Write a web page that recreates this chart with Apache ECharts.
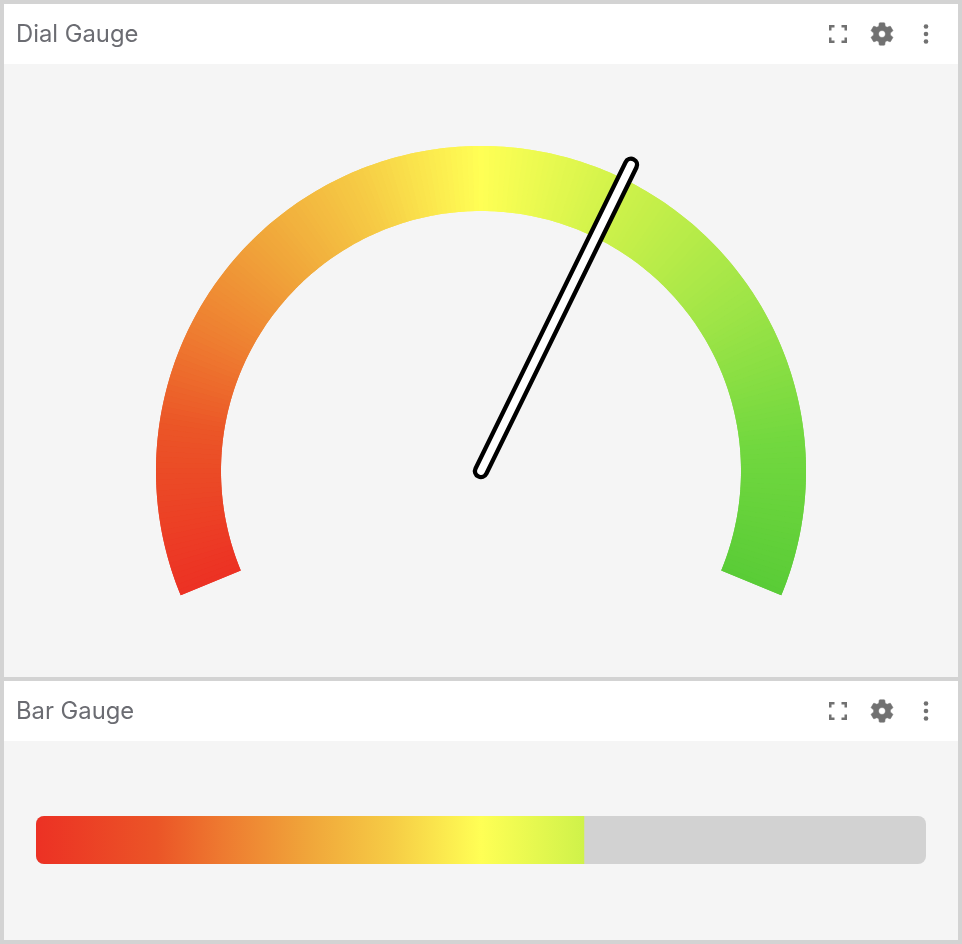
<!DOCTYPE html>
<html><head><meta charset="utf-8">
<style>html,body{margin:0;padding:0;background:#d3d3d3}#c{width:962px;height:944px}</style>
<script src="https://cdn.jsdelivr.net/npm/echarts@6/dist/echarts.min.js"></script>
</head><body><div id="c"></div>
<script>
const panelTitles = ['Dial Gauge', 'Bar Gauge'];
const dialValue = [61.6];
const barValue = [61.6];
const barCategories = ['Bar Gauge'];
const gaugeMin = 0, gaugeMax = 100;
const rampStops = [[0, '#EC3124'], [0.136, '#EB5527'], [0.21, '#EE7A30'], [0.305, '#F0A53A'], [0.4, '#F6CC45'], [0.5, '#FFFF55'], [0.6157, '#CFF24A'], [0.75, '#A0E547'], [0.875, '#72D83F'], [1, '#5ACC37']];

function hex(c){return [1,3,5].map(i=>parseInt(c.slice(i,i+2),16));}
function ramp(t){
  for(let i=1;i<rampStops.length;i++){
    if(t<=rampStops[i][0]){
      const a=rampStops[i-1],b=rampStops[i],k=(t-a[0])/(b[0]-a[0]);
      const A=hex(a[1]),B=hex(b[1]);
      return 'rgb('+A.map((v,j)=>Math.round(v+(B[j]-v)*k)).join(',')+')';
    }
  }
  return rampStops[rampStops.length-1][1];
}
// the dial's sweep gradient, as colour bands for the gauge's axis line
function bands(n,shift){
  const out=[];
  for(let i=1;i<=n;i++){
    const end=Math.min(1,(i+shift)/n);
    out.push([end,ramp((i-0.5)/n)]);
  }
  out[n-1][0]=1;
  return out;
}
const gearPath='M19.14 12.94c.04-.3.06-.61.06-.94 0-.32-.02-.64-.07-.94l2.03-1.58c.18-.14.23-.41.12-.61l-1.92-3.32c-.12-.22-.37-.29-.59-.22l-2.39.96c-.5-.38-1.03-.7-1.62-.94l-.36-2.54c-.04-.24-.24-.41-.48-.41h-3.84c-.24 0-.43.17-.47.41l-.36 2.54c-.59.24-1.13.57-1.62.94l-2.39-.96c-.22-.08-.47 0-.59.22L2.74 8.87c-.12.21-.08.47.12.61l2.03 1.58c-.05.3-.09.63-.09.94s.02.64.07.94l-2.03 1.58c-.18.14-.23.41-.12.61l1.92 3.32c.12.22.37.29.59.22l2.39-.96c.5.38 1.03.7 1.62.94l.36 2.54c.05.24.24.41.48.41h3.84c.24 0 .44-.17.47-.41l.36-2.54c.59-.24 1.13-.56 1.62-.94l2.39.96c.22.08.47 0 .59-.22l1.92-3.32c.12-.22.07-.47-.12-.61l-2.01-1.58zM12 15c-1.66 0-3-1.34-3-3s1.34-3 3-3 3 1.34 3 3-1.34 3-3 3z';
const framePath='M0 5.5V0H5.5V2.5H2.5V5.5ZM12.5 0H18V5.5H15.5V2.5H12.5ZM18 12.5V18H12.5V15.5H15.5V12.5ZM5.5 18H0V12.5H2.5V15.5H5.5Z';
const iconColor='#717171';
echarts.graphic.registerShape('gearIcon',echarts.graphic.extendPath(gearPath,{}));
echarts.graphic.registerShape('frameIcon',echarts.graphic.extendPath(framePath,{}));

function panel(top,headH,bottom,title){
  const cy=top+30;
  const gs=21.6/18.6;
  return [
    {type:'rect',silent:true,z:0,shape:{x:4,y:top,width:954,height:bottom-top},style:{fill:'#f5f5f5'}},
    {type:'rect',silent:true,z:1,shape:{x:4,y:top,width:954,height:headH},style:{fill:'#ffffff'}},
    {type:'text',silent:true,z:2,x:16,y:cy+1,style:{text:title,font:'400 23.8px Inter',fill:'#6b6c72',verticalAlign:'middle',align:'left'}},
    {type:'frameIcon',silent:true,z:2,x:829,y:cy-9,shape:{},style:{fill:iconColor}},
    {type:'gearIcon',silent:true,z:2,x:882-12*gs,y:cy-12*gs,scaleX:gs,scaleY:gs,shape:{},style:{fill:iconColor,stroke:iconColor,lineWidth:0.5}},
    {type:'circle',silent:true,z:2,shape:{cx:926,cy:cy-7.5,r:2.3},style:{fill:iconColor}},
    {type:'circle',silent:true,z:2,shape:{cx:926,cy:cy,r:2.3},style:{fill:iconColor}},
    {type:'circle',silent:true,z:2,shape:{cx:926,cy:cy+7.5,r:2.3},style:{fill:iconColor}}
  ];
}
function gauge(colors,withPointer,z){
  return {
    type:'gauge',z:z,center:[481,471],radius:325,startAngle:202.5,endAngle:-22.5,min:gaugeMin,max:gaugeMax,
    silent:true,
    axisLine:{roundCap:false,lineStyle:{width:65,color:colors}},
    axisTick:{show:false},splitLine:{show:false},axisLabel:{show:false},
    anchor:{show:false},title:{show:false},detail:{show:false},
    progress:{show:false},
    pointer:{show:withPointer,icon:'path://M0 6A6 6 0 0 1 12 6L12 347A6 6 0 0 1 0 347Z',
      width:12,length:353,offsetCenter:[0,6],keepAspect:false,
      itemStyle:{color:'#ffffff',borderColor:'#000000',borderWidth:4.4}},
    data:[{value:dialValue[0]}]
  };
}
const chart=echarts.init(document.getElementById('c'),null,{renderer:'canvas'});
chart.setOption({
  animation:false,
  backgroundColor:'#d3d3d3',
  graphic:{elements:[...panel(4,60,677,panelTitles[0]),...panel(681,60,940,panelTitles[1])]},
  grid:{left:36,top:816,width:890,height:48,containLabel:false},
  xAxis:{type:'value',min:gaugeMin,max:gaugeMax,show:false},
  yAxis:{type:'category',data:barCategories,show:false},
  series:[
    gauge(bands(225,0.5),false,3),
    gauge(bands(225,0),true,4),
    {type:'bar',z:3,silent:true,data:barValue,barWidth:48,showBackground:true,
      backgroundStyle:{color:'#d2d2d2',borderRadius:8},
      itemStyle:{borderRadius:[8,0,0,8],color:{type:'linear',global:true,x:36,y:0,x2:926,y2:0,
        colorStops:rampStops.map(s=>({offset:s[0],color:s[1]}))}}}
  ]
});
</script></body></html>
